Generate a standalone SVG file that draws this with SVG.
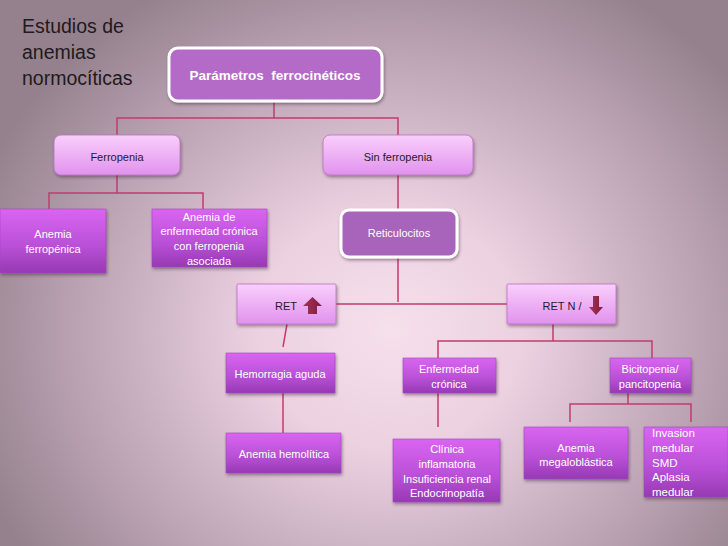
<svg xmlns="http://www.w3.org/2000/svg" width="728" height="546" viewBox="0 0 728 546">
<defs>
<radialGradient id="bg" gradientUnits="userSpaceOnUse" cx="390" cy="330" r="440" gradientTransform="translate(390 330) scale(1 0.9) translate(-390 -330)">
<stop offset="0" stop-color="#f6e0ec"/>
<stop offset="0.3" stop-color="#ecd1e1"/>
<stop offset="0.7" stop-color="#bca4b4"/>
<stop offset="1" stop-color="#95818e"/>
</radialGradient>
<linearGradient id="light" x1="0" y1="0" x2="0" y2="1">
<stop offset="0" stop-color="#f9cffb"/>
<stop offset="1" stop-color="#e192ee"/>
</linearGradient>
<linearGradient id="dark" x1="0" y1="0" x2="0" y2="1">
<stop offset="0" stop-color="#d965f1"/>
<stop offset="0.6" stop-color="#b84fd6"/>
<stop offset="1" stop-color="#9639b3"/>
</linearGradient>
<linearGradient id="arr" x1="0" y1="0" x2="1" y2="0">
<stop offset="0" stop-color="#a83358"/>
<stop offset="1" stop-color="#7c1c3c"/>
</linearGradient>
<filter id="sh" x="-10%" y="-10%" width="125%" height="135%">
<feDropShadow dx="1" dy="2" stdDeviation="1.5" flood-color="#3a2035" flood-opacity="0.45"/>
</filter>
</defs>
<style>
text{font-family:"Liberation Sans",Arial,sans-serif;}
.title{font-size:19.5px;fill:#1e1a1d;}
.lt{fill:url(#light);stroke:#b772c4;stroke-width:0.8;filter:url(#sh);}
.dk{fill:url(#dark);stroke:#a048bb;stroke-width:0.6;filter:url(#sh);}
.wb{stroke:#ffffff;stroke-width:3;filter:url(#sh);}
.tl{font-size:11px;fill:#1f1a1f;text-anchor:middle;}
.tw{font-size:11px;fill:#ffffff;text-anchor:middle;}
.tws{font-size:11.5px;fill:#ffffff;text-anchor:start;}
.tb{font-size:13.5px;font-weight:bold;fill:#ffffff;text-anchor:middle;}
.con{fill:none;stroke:#c13c6c;stroke-width:1.5;}
</style>
<rect x="0" y="0" width="728" height="546" fill="url(#bg)"/>
<g id="title">
<text class="title" x="22" y="33">Estudios de</text>
<text class="title" x="22" y="59">anemias</text>
<text class="title" x="22" y="85">normocíticas</text>
</g>
<g id="connectors">
<path class="con" d="M274 101V118M117 135V118H398V135"/>
<path class="con" d="M117 175V193M49 209V193H203V209"/>
<path class="con" d="M398 175V210"/>
<path class="con" d="M398 257V302M336 304H507"/>
<path class="con" d="M287 324L283 347M283 393V433"/>
<path class="con" d="M553 324V341M438 358V341H652V358"/>
<path class="con" d="M438 393V427"/>
<path class="con" d="M628 393V404M570 422V404H691V422"/>
</g>
<g id="n-parametros">
<rect class="wb" x="169" y="48" width="213" height="53" rx="9" fill="#b46ac7"/>
<text class="tb" x="275" y="80">Parámetros&#160; ferrocinéticos</text>
</g>
<g id="n-ferropenia">
<rect class="lt" x="54" y="135" width="126" height="40" rx="7"/>
<text class="tl" x="117" y="161">Ferropenia</text>
</g>
<g id="n-sinferropenia">
<rect class="lt" x="323" y="135" width="150" height="40" rx="7"/>
<text class="tl" x="398" y="161">Sin ferropenia</text>
</g>
<g id="n-anemiaferropenica">
<rect class="dk" x="0" y="209" width="106" height="64"/>
<text class="tw" x="53" y="238">Anemia</text>
<text class="tw" x="53" y="253">ferropénica</text>
</g>
<g id="n-anemiaenfcronica">
<rect class="dk" x="152" y="209" width="115" height="58"/>
<text class="tw" x="209" y="221">Anemia de</text>
<text class="tw" x="209" y="235">enfermedad crónica</text>
<text class="tw" x="209" y="250">con ferropenia</text>
<text class="tw" x="209" y="265">asociada</text>
</g>
<g id="n-reticulocitos">
<rect class="wb" x="341" y="210" width="116" height="47" rx="8" fill="#a864ba"/>
<text class="tw" x="399" y="237">Reticulocitos</text>
</g>
<g id="n-retup">
<rect class="lt" x="237" y="284" width="99" height="40" rx="1"/>
<text class="tl" x="286" y="310">RET</text>
<polygon points="312.5,297 322,306 317,306 317,314 308,314 308,306 303,306" fill="url(#arr)"/>
</g>
<g id="n-retdown">
<rect class="lt" x="507" y="284" width="109" height="40" rx="1"/>
<text class="tl" x="562" y="310">RET N /</text>
<polygon points="593,296 599,296 599,307 603,307 596,315 589,307 593,307" fill="url(#arr)"/>
</g>
<g id="n-hemorragia">
<rect class="dk" x="226" y="353" width="109" height="40"/>
<text class="tw" x="280" y="378">Hemorragia aguda</text>
</g>
<g id="n-hemolitica">
<rect class="dk" x="226" y="433" width="115" height="40"/>
<text class="tw" x="284" y="458">Anemia hemolítica</text>
</g>
<g id="n-enfcronica">
<rect class="dk" x="403" y="358" width="93" height="35"/>
<text class="tw" x="449" y="373">Enfermedad</text>
<text class="tw" x="449" y="388">crónica</text>
</g>
<g id="n-clinica">
<rect class="dk" x="393" y="439" width="107" height="63"/>
<text class="tw" x="447" y="453">Clínica</text>
<text class="tw" x="447" y="468">inflamatoria</text>
<text class="tw" x="447" y="483">Insuficiencia renal</text>
<text class="tw" x="447" y="497">Endocrinopatía</text>
</g>
<g id="n-bicitopenia">
<rect class="dk" x="610" y="358" width="81" height="35"/>
<text class="tw" x="650" y="373">Bicitopenia/</text>
<text class="tw" x="650" y="388">pancitopenia</text>
</g>
<g id="n-megaloblastica">
<rect class="dk" x="524" y="427" width="104" height="52"/>
<text class="tw" x="576" y="452">Anemia</text>
<text class="tw" x="576" y="466">megaloblástica</text>
</g>
<g id="n-invasion">
<rect class="dk" x="644" y="427" width="84" height="70"/>
<text class="tws" x="652" y="437">Invasion</text>
<text class="tws" x="652" y="452">medular</text>
<text class="tws" x="652" y="467">SMD</text>
<text class="tws" x="652" y="481">Aplasia</text>
<text class="tws" x="652" y="496">medular</text>
</g>
</svg>
